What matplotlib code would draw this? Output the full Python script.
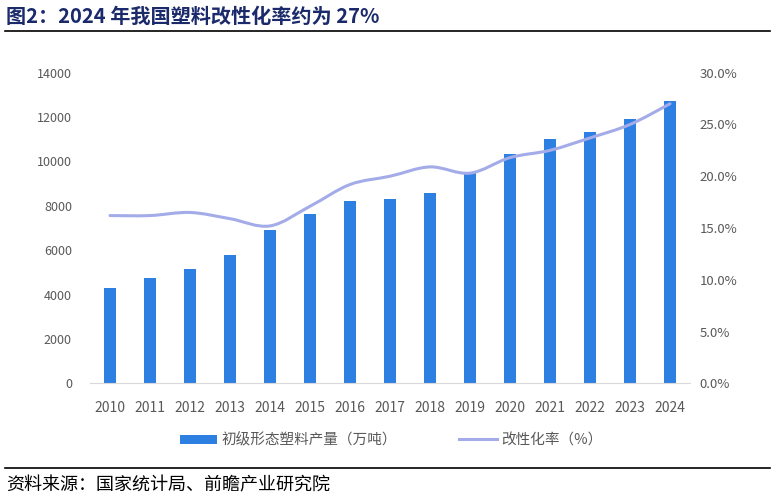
import numpy as np
import matplotlib.pyplot as plt
from matplotlib.path import Path
from matplotlib.patches import PathPatch, Patch
from matplotlib.lines import Line2D
from matplotlib.ticker import FuncFormatter

plt.rcParams['font.family'] = ['Noto Sans CJK SC', 'DejaVu Sans']

# ── 数据 ──────────────────────────────────────────────
years = ['2010', '2011', '2012', '2013', '2014', '2015', '2016', '2017',
         '2018', '2019', '2020', '2021', '2022', '2023', '2024']
output = [4310, 4760, 5150, 5780, 6910, 7640, 8220, 8320,
          8560, 9490, 10320, 11000, 11340, 11900, 12740]      # 万吨
mod_rate = [16.2, 16.2, 16.5, 15.9, 15.2, 17.1, 19.2, 20.0,
            20.9, 20.3, 21.8, 22.5, 23.7, 25.0, 27.0]        # %

bar_color = '#2E7FE2'
line_color = '#A3ACE8'
txt_color = '#595959'

fig = plt.figure(figsize=(7.74, 4.99), dpi=100)
ax = fig.add_axes([0.1163, 0.2319, 0.7752, 0.6224])
ax2 = ax.twinx()

x = np.arange(len(years))
ax.bar(x, output, width=0.3, color=bar_color, zorder=2)

# 平滑折线（Catmull-Rom → 三次贝塞尔，仅用于绘制）
pts = np.column_stack([x, mod_rate]).astype(float)
verts = [tuple(pts[0])]
codes = [Path.MOVETO]
for i in range(len(pts) - 1):
    p0 = pts[i - 1] if i > 0 else pts[i]
    p1, p2 = pts[i], pts[i + 1]
    p3 = pts[i + 2] if i + 2 < len(pts) else pts[i + 1]
    c1 = p1 + (p2 - p0) / 6
    c2 = p2 - (p3 - p1) / 6
    verts += [tuple(c1), tuple(c2), tuple(p2)]
    codes += [Path.CURVE4] * 3
ax2.add_patch(PathPatch(Path(verts, codes), fill=False, edgecolor=line_color,
                        linewidth=2.2, capstyle='round', zorder=3))

# 坐标轴
ax.set_xlim(-0.5, len(years) - 0.5)
ax.set_ylim(0, 14000)
ax.set_yticks(range(0, 14001, 2000))
ax2.set_ylim(0, 30)
ax2.set_yticks(range(0, 31, 5))
ax2.yaxis.set_major_formatter(FuncFormatter(lambda v, p: f'{v:.1f}%'))
ax.set_xticks(x)
ax.set_xticklabels(years)

for a in (ax, ax2):
    for s in a.spines.values():
        s.set_visible(False)
ax.spines['bottom'].set_visible(True)
ax.spines['bottom'].set_color('#D9D9D9')
ax.tick_params(axis='x', length=0, pad=13, labelsize=10, labelcolor=txt_color)
ax.tick_params(axis='y', length=0, pad=13, labelsize=9, labelcolor=txt_color)
ax2.tick_params(axis='y', length=0, pad=7, labelsize=9.5, labelcolor=txt_color)

# 图例
handles = [Patch(facecolor=bar_color, edgecolor='none'),
           Line2D([0], [0], color=line_color, linewidth=2.2)]
fig.legend(handles, ['初级形态塑料产量（万吨）', '改性化率（%）'],
           loc='center', bbox_to_anchor=(0.505, 0.118), ncol=2, frameon=False,
           fontsize=10.5, labelcolor=txt_color, handlelength=2.6,
           handleheight=0.6, handletextpad=0.3, columnspacing=4.2)

# 标题与来源
fig.text(0.008, 0.968, '图2：2024 年我国塑料改性化率约为 27%', fontsize=14.5,
         fontweight='bold', color='#1B2A6B', va='center', ha='left')
fig.add_artist(Line2D([0.006, 0.995], [0.938, 0.938], color='black', linewidth=1.2))
fig.add_artist(Line2D([0.006, 0.995], [0.062, 0.062], color='black', linewidth=1.2))
fig.text(0.008, 0.028, '资料来源：国家统计局、前瞻产业研究院', fontsize=13,
         color='black', va='center', ha='left')

fig.savefig('out.png', dpi=100, facecolor='white')
